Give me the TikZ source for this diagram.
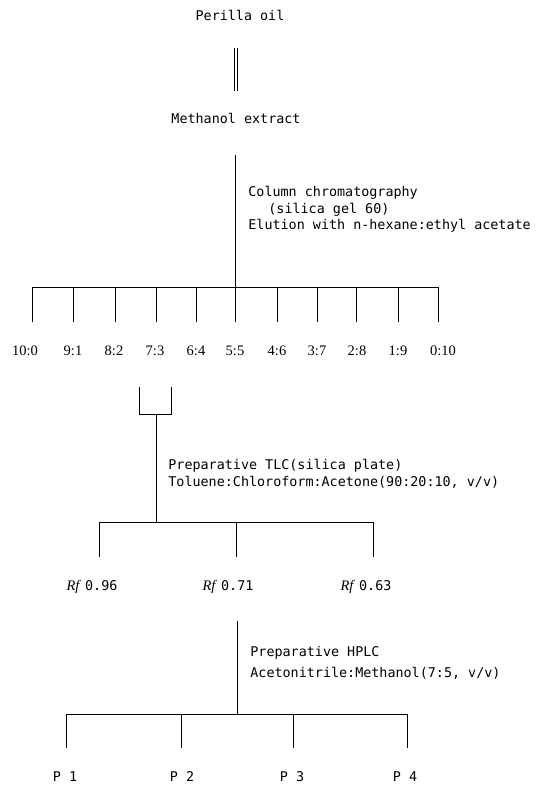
\documentclass[tikz,border=0pt]{standalone}
\usepackage{fontspec}
\setmainfont{Liberation Serif}
\newfontfamily\monof{DejaVu Sans Mono}
\begin{document}
\begin{tikzpicture}[x=1pt,y=-1pt,line width=0.8pt,
  lbl/.style={font=\monof\fontsize{13.4}{16}\selectfont,inner sep=0pt},
  note/.style={lbl,anchor=west},
  ratio/.style={font=\fontsize{14.5}{16}\selectfont,inner sep=0pt},
  rflbl/.style={font=\fontsize{14.5}{16}\selectfont,inner sep=0pt},
  twin/.style={line width=0.7pt}]
\useasboundingbox (0,0) rectangle (543,788);
% top
\node[lbl] (oil) at (240,15) {Perilla oil};
\node[lbl] (meth) at (236,118) {Methanol extract};
\coordinate (d1) at (236,48);
\coordinate (d2) at (236,91);
\draw[twin] ([xshift=-1.2pt]d1) -- ([xshift=-1.2pt]d2);
\draw[twin] ([xshift=1.2pt]d1) -- ([xshift=1.2pt]d2);
% column chromatography
\coordinate (c0) at (235,155);
\coordinate (c1) at (235,287);
\draw (c0) -- (c1);
\node[note] (cc) at (248,193) {Column chromatography};
\node[note] (sg) at (268,210) {(silica gel 60)};
\node[note] (el) at (248,226) {Elution with n-hexane:ethyl acetate};
\coordinate (fL) at (32,287);
\coordinate (fR) at (438,287);
\draw (fL) -- (fR);
\foreach \x/\lx/\t [count=\i] in {32/25/10:0,73/73/9:1,115/114/8:2,156/155/7:3,196/196/6:4,235/235/5:5,277/277/4:6,317/317/3:7,356/357/2:8,398/398/1:9,438/443/0:10}{
  \coordinate (ft\i) at (\x,287);
  \coordinate (fb\i) at (\x,322);
  \draw (ft\i) -- (fb\i);
  \node[ratio] (r\i) at (\lx,351) {\t};
}
% bracket on 7:3
\coordinate (k1) at (139,387);
\coordinate (k2) at (139,414);
\coordinate (k3) at (171,414);
\coordinate (k4) at (171,387);
\draw (k1) -- (k2) -- (k3) -- (k4);
\coordinate (k5) at (156,414);
\coordinate (k6) at (156,522);
\draw (k5) -- (k6);
\node[note] (tlc) at (168,466) {Preparative TLC(silica plate)};
\node[note] (tol) at (168,482) {Toluene:Chloroform:Acetone(90:20:10, v/v)};
\coordinate (tL) at (99,522);
\coordinate (tR) at (373,522);
\draw (tL) -- (tR);
\foreach \x/\lx/\t [count=\i] in {99/92/0.96,236/228/0.71,373/366/0.63}{
  \coordinate (tt\i) at (\x,522);
  \coordinate (tb\i) at (\x,557);
  \draw (tt\i) -- (tb\i);
  \node[rflbl] (rf\i) at (\lx,587) {\textit{Rf}\hspace{4pt}{\monof\fontsize{13.4}{16}\selectfont\t}};
}
% HPLC
\coordinate (h0) at (237,621);
\coordinate (h1) at (237,714);
\draw (h0) -- (h1);
\node[note] (hp) at (250,653) {Preparative HPLC};
\node[note] (ac) at (250,673) {Acetonitrile:Methanol(7:5, v/v)};
\coordinate (pL) at (66,714);
\coordinate (pR) at (407,714);
\draw (pL) -- (pR);
\foreach \x/\lx [count=\i] in {66/65,181/182,293/292,407/405}{
  \coordinate (pt\i) at (\x,714);
  \coordinate (pb\i) at (\x,748);
  \draw (pt\i) -- (pb\i);
  \node[lbl] (p\i) at (\lx,777) {P \i};
}
\end{tikzpicture}
\end{document}
